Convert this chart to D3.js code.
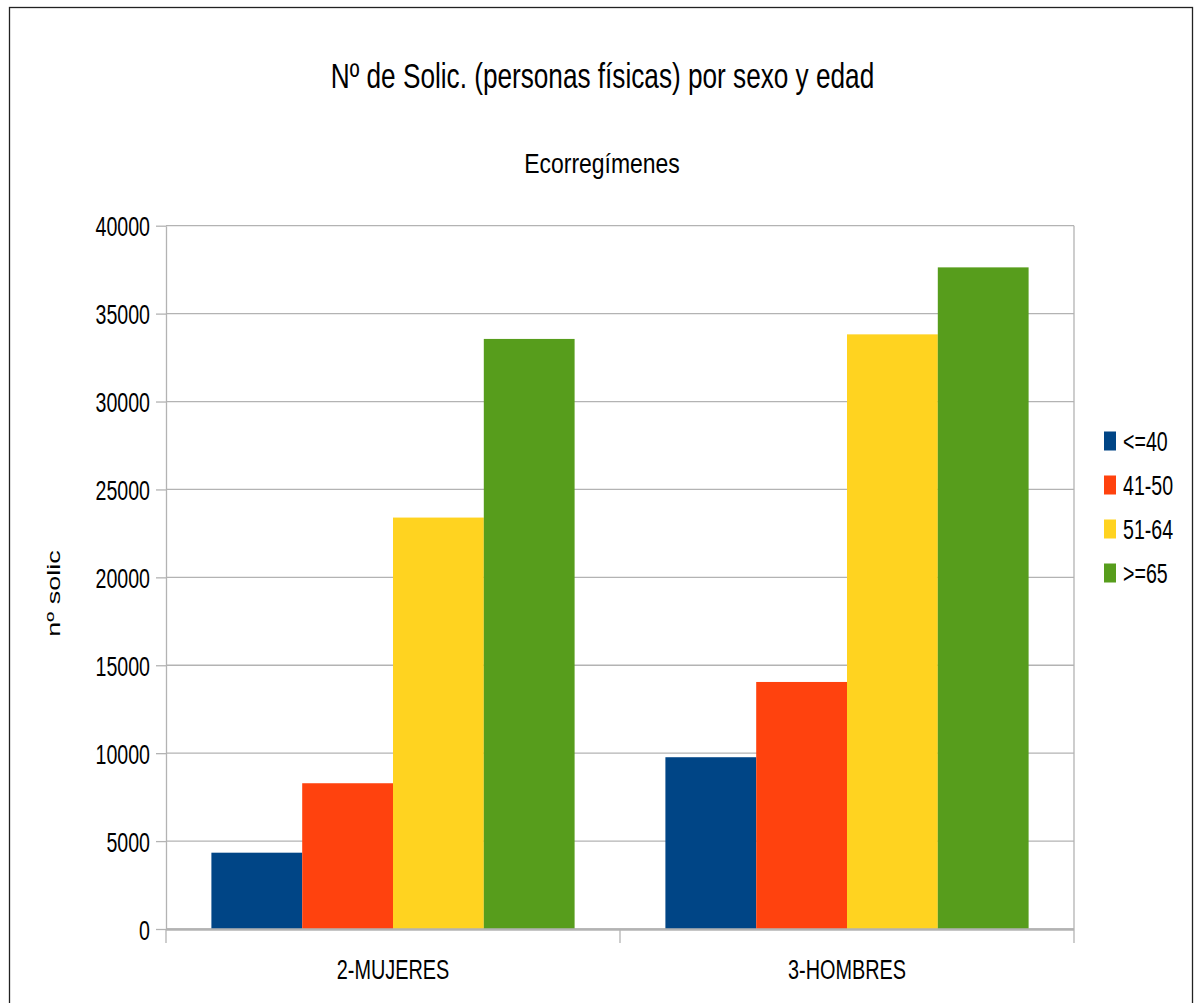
<!DOCTYPE html>
<html>
<head>
<meta charset="utf-8">
<script src="https://cdn.jsdelivr.net/npm/d3@7"></script>
<style>
  html, body { margin: 0; padding: 0; background: #fff; }
  svg { display: block; font-family: "Liberation Sans", Arial, sans-serif; }
</style>
</head>
<body>
<svg id="chart" width="1194" height="1003"></svg>
<script>
const categories = ["2-MUJERES", "3-HOMBRES"];
const seriesNames = ["<=40", "41-50", "51-64", ">=65"];
const seriesColors = ["#004586", "#ff420e", "#ffd320", "#579d1c"];
const valuesLe40 = [4340, 9770];
const values41to50 = [8290, 14050];
const values51to64 = [23400, 33820];
const valuesGe65 = [33560, 37630];
const yTickValues = [0, 5000, 10000, 15000, 20000, 25000, 30000, 35000, 40000];
const titleText = "Nº de Solic. (personas físicas) por sexo y edad";
const subtitleText = "Ecorregímenes";
const yAxisTitle = "nº solic";

const seriesValues = [valuesLe40, values41to50, values51to64, valuesGe65];

const svg = d3.select("#chart");
const plot = { left: 166, right: 1074, top: 225.7, bottom: 929 };
const SX = 0.7;

// outer frame
svg.append("rect").attr("x", 9.5).attr("y", 7.5).attr("width", 1183).attr("height", 1000)
  .attr("fill", "none").attr("stroke", "#222").attr("stroke-width", 1.3);

const x0 = d3.scaleBand().domain(categories).range([plot.left, plot.right])
  .paddingInner(0.2).paddingOuter(0.1);
const x1 = d3.scaleBand().domain(seriesNames).range([0, x0.bandwidth()]);
const y = d3.scaleLinear().domain([0, 40000]).range([plot.bottom, plot.top]);

function condText(parent, x, yy, txt, size, sx, anchor) {
  return parent.append("text")
    .attr("transform", `translate(${x},${yy}) scale(${sx},1)`)
    .attr("text-anchor", anchor || "middle")
    .attr("font-size", size)
    .attr("fill", "#000")
    .text(txt);
}

// titles
condText(svg, 602.5, 88, titleText, 36, 0.727);
condText(svg, 602, 173, subtitleText, 28, 0.82);

// gridlines
svg.append("g").selectAll("line").data(yTickValues).join("line")
  .attr("x1", plot.left).attr("x2", plot.right)
  .attr("y1", d => y(d)).attr("y2", d => y(d))
  .attr("stroke", "#b3b3b3").attr("stroke-width", 1.3);

// right wall line
svg.append("line").attr("x1", plot.right).attr("x2", plot.right)
  .attr("y1", plot.top).attr("y2", plot.bottom)
  .attr("stroke", "#b3b3b3").attr("stroke-width", 1.3);

// bars
const barG = svg.append("g");
categories.forEach((c, ci) => {
  seriesNames.forEach((s, si) => {
    const v = seriesValues[si][ci];
    barG.append("rect")
      .attr("x", x0(c) + x1(s))
      .attr("width", x1.bandwidth())
      .attr("y", y(v))
      .attr("height", y(0) - y(v))
      .attr("fill", seriesColors[si]);
  });
});

// y axis
const yAxis = svg.append("g").attr("transform", `translate(${plot.left},0)`)
  .call(d3.axisLeft(y).tickValues(yTickValues).tickSize(10).tickSizeOuter(0).tickFormat(d3.format("d")));
yAxis.select(".domain").attr("stroke", "#b3b3b3").attr("stroke-width", 1.3);
yAxis.selectAll(".tick line").attr("stroke", "#b3b3b3").attr("stroke-width", 1.3);
yAxis.selectAll(".tick text")
  .attr("x", null).attr("dy", "0.36em")
  .attr("transform", `translate(-16,0) scale(${SX},1)`)
  .attr("font-size", 28).attr("fill", "#000")
  .attr("font-family", "Liberation Sans, Arial, sans-serif");

// x axis
const step = x0.step();
const boundaries = categories.map(c => x0(c) - step * x0.paddingOuter()).concat([plot.right]);
svg.append("line").attr("x1", plot.left).attr("x2", plot.right)
  .attr("y1", plot.bottom + 0.5).attr("y2", plot.bottom + 0.5)
  .attr("stroke", "#b3b3b3").attr("stroke-width", 2.5);
svg.append("g").selectAll("line").data(boundaries).join("line")
  .attr("x1", d => d).attr("x2", d => d)
  .attr("y1", plot.bottom).attr("y2", plot.bottom + 14)
  .attr("stroke", "#b3b3b3").attr("stroke-width", 1.3);
categories.forEach(c => {
  condText(svg, x0(c) + x0.bandwidth() / 2, 979, c, 28, 0.709);
});

// y axis title
svg.append("text")
  .attr("transform", `translate(60,593.5) rotate(-90) scale(1,${SX})`)
  .attr("text-anchor", "middle").attr("font-size", 27).attr("fill", "#000")
  .text(yAxisTitle);

// legend
const legend = svg.append("g");
seriesNames.forEach((s, i) => {
  const cy = 441 + i * 44;
  legend.append("rect").attr("x", 1104).attr("y", cy - 9.5).attr("width", 12).attr("height", 19)
    .attr("fill", seriesColors[i]);
  legend.append("text")
    .attr("transform", `translate(1123,${cy}) scale(${SX},1)`)
    .attr("dy", "0.36em").attr("font-size", 28).attr("fill", "#000")
    .text(s);
});
</script>
</body>
</html>
